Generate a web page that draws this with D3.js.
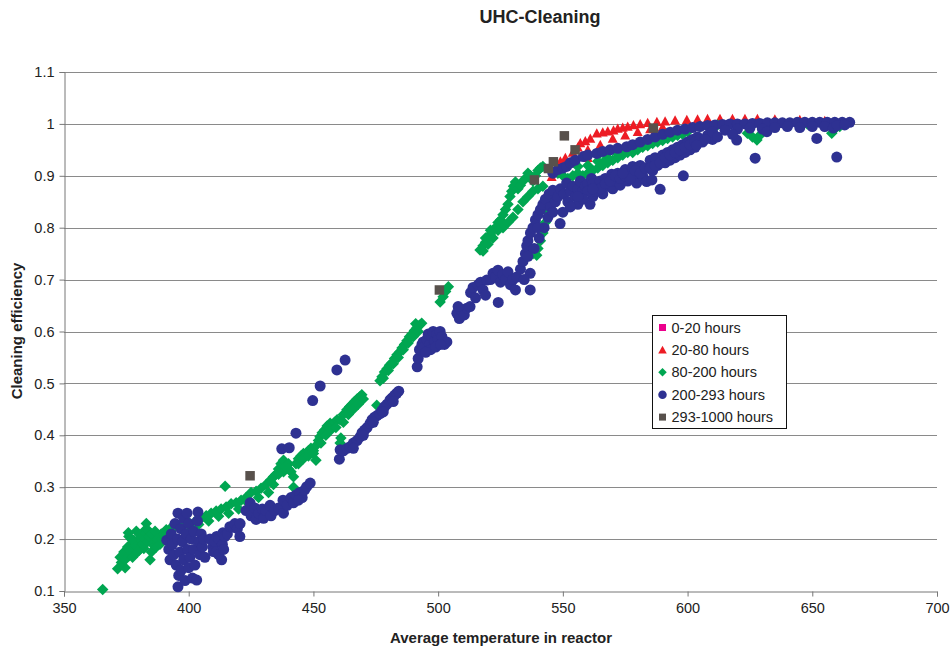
<!DOCTYPE html>
<html><head><meta charset="utf-8">
<script src="https://cdn.jsdelivr.net/npm/d3@7"></script>
<style>body{margin:0;background:#fff;} svg{display:block;font-family:"Liberation Sans",Arial,sans-serif;}</style>
</head><body>
<svg id="chart" width="952" height="648"></svg>
<script>
const chartTitle = "UHC-Cleaning";
const xTitle = "Average temperature in reactor";
const yTitle = "Cleaning efficiency";
const seriesNames = ["0-20 hours", "20-80 hours", "80-200 hours", "200-293 hours", "293-1000 hours"];
const xTicks = [350, 400, 450, 500, 550, 600, 650, 700];
const yTicks = [0.1, 0.2, 0.3, 0.4, 0.5, 0.6, 0.7, 0.8, 0.9, 1.0, 1.1];
const yTickLabels = ["0.1", "0.2", "0.3", "0.4", "0.5", "0.6", "0.7", "0.8", "0.9", "1", "1.1"];

const hours0to20 = [];

const hours20to80 = [
[542.9,0.86],[545.5,0.898],[547,0.91],[549,0.928],[551,0.935],[552.2,0.886],[552.9,0.924],[554,0.945],[556,0.955],[557,0.963],
[559,0.967],[561,0.972],[563.6,0.982],[566,0.984],[568,0.986],[570.3,0.988],[572,0.991],[574,0.993],[576,0.995],[578.3,0.998],
[581,1.0],[584,1.002],[587.7,1.004],[591,1.005],[595,1.007],[599.7,1.008],[604,1.009],[608,1.01],[613,1.01],[618,1.01],
[623,1.01],[628,1.01],[635,1.009],[645,1.008],[655,1.006],[573,0.95],[601,0.966],[560,0.95],[565,0.96],[570,0.972],
[575,0.978],[580,0.985],[585,0.99],[590,0.994],[560,0.935]
];

const hours80to200 = [
[365.5,0.103],[371.5,0.143],[374.5,0.145],
[372.5,0.165],[374,0.175],[376,0.168],[375.5,0.185],[377,0.19],[376,0.205],[375.8,0.212],[378,0.198],[379,0.183],[380,0.192],
[381,0.205],[382,0.215],[383,0.23],[383.5,0.218],[384.5,0.16],[385,0.175],[385.5,0.19],[386,0.2],[387,0.185],[388,0.205],
[389,0.21],[390,0.212],[391,0.218],[392.5,0.22],[378,0.172],[380,0.178],[382,0.182],
[373,0.155],[374.5,0.16],[376.5,0.178],[377.5,0.165],[378.5,0.188],[379.5,0.175],[380.5,0.2],[381.5,0.19],[382.5,0.2],
[383.5,0.195],[384,0.205],[385,0.21],[386.5,0.215],[387.5,0.2],[388.5,0.19],[389.5,0.2],[390.5,0.205],[391.5,0.21],[379,0.215],[377,0.2],
[394,0.222],[396,0.225],[398,0.228],[400,0.232],[401,0.222],[403,0.236],[404,0.228],[405,0.24],[407,0.245],[408,0.235],
[409,0.25],[411,0.254],[412,0.244],[413,0.258],[415,0.262],[416,0.25],[417,0.268],[419,0.27],[420,0.258],[421,0.275],
[423,0.28],[424,0.268],[425,0.29],[427,0.292],[428,0.28],[429,0.298],[431,0.305],[432,0.29],[414.6,0.302],
[433,0.315],[434,0.305],[435,0.325],[436,0.335],[437,0.345],[438,0.352],[438,0.33],[439,0.34],[440,0.345],[441,0.33],
[442,0.32],[442,0.30],[443,0.345],[444,0.355],[445,0.36],[446,0.365],[447,0.365],[448,0.37],[449,0.375],[450,0.37],
[451,0.352],[451,0.38],[452,0.39],[452.6,0.397],[453.5,0.405],[454.5,0.41],[455.5,0.418],[456.7,0.423],[457.5,0.42],
[458.5,0.425],[459.5,0.43],[460.7,0.43],[460.7,0.385],[461,0.395],[462,0.44],[463.4,0.449],[464.5,0.455],[465.5,0.46],
[466.5,0.465],[467.5,0.47],[468.5,0.474],[469.4,0.478],
[434,0.32],[436,0.325],[440,0.335],[444,0.345],[446,0.355],[448,0.36],[450,0.365],[453,0.385],[455,0.4],[457,0.41],
[459,0.415],[462,0.425],[464,0.44],[466,0.45],[468,0.46],[470,0.47],
[475.4,0.458],[476.7,0.505],[477.5,0.513],[478.5,0.522],[479.5,0.528],[480.5,0.535],[481.5,0.54],[482.5,0.548],[483.5,0.555],
[484.5,0.56],[485.5,0.568],[486.5,0.575],[487.5,0.582],[488.5,0.59],[489.5,0.595],[490.5,0.602],[491.5,0.607],[492.5,0.612],[493.4,0.616],
[478,0.51],[480,0.525],[482,0.538],[484,0.55],[486,0.565],[488,0.578],[490,0.59],[492,0.6],[491,0.615],
[500.8,0.657],[502,0.667],[503,0.677],[504.1,0.686],
[516.8,0.757],[518,0.765],[519,0.772],[520,0.78],[521,0.788],[522,0.795],[523,0.8],[524,0.81],[525,0.815],[526,0.825],
[527,0.835],[528,0.845],[528.8,0.86],[529.5,0.87],[530.2,0.88],[531,0.888],[532,0.875],[533,0.882],[534,0.89],[535,0.895],
[536,0.905],[537,0.9],[538,0.89],[539,0.9],[540,0.91],[541,0.915],[542,0.918],[526,0.8],[528,0.81],[530,0.82],
[532,0.835],[534,0.85],[536,0.86],[538,0.87],[540,0.875],[542,0.88],
[518,0.755],[520,0.768],[522,0.78],[524,0.795],[519,0.78],[521,0.795],
[538,0.75],[539.5,0.747],[540,0.76],[541,0.775],[542,0.79],[543,0.81],[544,0.83],[545,0.845],[546,0.855],[547,0.86],
[548,0.905],[550,0.9],[552,0.895],[554,0.9],[556,0.905],[558,0.9],[560,0.905],[562,0.91],[564,0.915],[566,0.92],
[568,0.925],[570,0.93],[572,0.935],[574,0.94],[576,0.945],[578,0.945],[580,0.95],[582,0.955],[584,0.958],[586,0.962],
[588,0.965],[590,0.968],[592,0.972],[594,0.975],[596,0.978],[598,0.98],[600,0.985],[556,0.918],[560,0.92],[564,0.928],
[568,0.935],[572,0.942],[576,0.95],[580,0.958],[584,0.965],[588,0.972],[592,0.978],[565,0.944],[567,0.93],
[605,0.995],[612,0.998],[620,0.998],[624,0.982],[626,0.975],[627.8,0.969],[629,0.978],[630,0.99],[640,1.0],[648,1.0],
[655,0.995],[657.8,0.982],[659,0.99],[661,0.995],[663,1.0]
];

const hours200to293 = [
[391.2,0.198],[392.5,0.16],[392,0.18],[393,0.21],[393.5,0.19],[394,0.17],[394.5,0.23],[395,0.15],[395.5,0.2],[395.7,0.25],
[395.7,0.108],[396,0.13],[396.5,0.175],[396.8,0.22],[397,0.14],[397.5,0.195],[398,0.16],[398,0.24],[398.5,0.12],[399,0.21],
[399.3,0.25],[399.5,0.18],[400,0.145],[400,0.23],[400.5,0.165],[401,0.2],[401.5,0.125],[402,0.215],[402,0.18],[402.5,0.15],
[403.2,0.121],[403.7,0.252],[403.5,0.235],[404,0.195],[404.5,0.17],[405,0.21],[405.5,0.185],[406,0.2],[406.5,0.165],
[408.5,0.2],[409.7,0.185],[409.9,0.176],[410.5,0.195],[411,0.175],[411.2,0.205],[412,0.2],[413.2,0.16],[413.5,0.19],[413.7,0.212],
[414.5,0.205],[415.5,0.21],[416.5,0.224],[417.7,0.223],[418.5,0.23],[419.5,0.22],[420.5,0.205],[420.6,0.23],[412,0.17],[414,0.18],
[423,0.255],[424.6,0.27],[425,0.245],[426.5,0.26],[427,0.238],[428,0.25],[429.5,0.258],[430,0.24],[431,0.255],[432.6,0.265],
[433,0.245],[434.5,0.255],[436,0.26],[437.8,0.275],[438,0.25],[439.5,0.265],[441,0.28],[442,0.27],[443,0.285],[444.5,0.29],
[445.5,0.28],[446.5,0.295],[447.3,0.301],[448.7,0.308],[444,0.275],
[437.3,0.374],[440.3,0.376],[443,0.404],[449.7,0.467],[452.7,0.495],[459.4,0.526],[462.7,0.545],
[460.4,0.354],[460.7,0.372],[462,0.37],[463.5,0.375],[464.7,0.378],[466,0.385],[467.5,0.39],[468.7,0.397],[469.5,0.405],
[470.5,0.41],[471.5,0.415],[472.7,0.423],[473.5,0.43],[474.5,0.435],[475.5,0.438],[476.7,0.442],[477.5,0.448],[478.5,0.455],
[479.5,0.46],[480.7,0.468],[481.5,0.472],[482.5,0.477],[483.4,0.481],[484.2,0.485],[470,0.4],[474,0.425],[478,0.445],
[482,0.465],[466,0.375],
[491.6,0.532],[492,0.548],[492.5,0.565],[493.5,0.575],[494,0.58],[494.5,0.57],[495.5,0.585],[496,0.595],[496.5,0.575],
[497.5,0.59],[498,0.6],[498.5,0.58],[499.5,0.595],[500,0.585],[500.8,0.6],[501.5,0.59],[502.5,0.575],[503.5,0.58],
[497,0.565],[499,0.57],[501,0.575],[495,0.56],
[507.5,0.635],[508.5,0.625],[509.5,0.64],[510.5,0.632],[511.5,0.645],[512.8,0.648],[508,0.648],
[513,0.675],[514,0.685],[515,0.665],[516,0.69],[517,0.695],[518,0.68],[519.5,0.699],[519,0.67],
[521,0.7],[522,0.712],[523,0.705],[524,0.718],[524.1,0.656],[525,0.695],[526,0.71],[527,0.7],[528,0.715],[529,0.69],
[530,0.7],[531,0.68],[531.5,0.705],
[533,0.72],[534,0.735],[535,0.75],[535.5,0.765],[536,0.775],[536.9,0.712],[536.9,0.68],[537,0.79],[538,0.8],[538.5,0.76],
[539,0.815],[540,0.825],[540.5,0.78],[541,0.835],[542,0.845],[542.5,0.8],[543,0.855],[544,0.82],[544.5,0.865],[545,0.84],
[546,0.872],[534.5,0.7],[536,0.745],[540,0.8],
[546,0.83],[547,0.85],[548,0.86],[548.9,0.808],[549,0.875],[550,0.83],[550.5,0.865],[551.5,0.886],[552,0.85],[553,0.87],
[554,0.88],[555,0.86],[556,0.875],[557,0.89],[558,0.87],[559,0.88],[560,0.885],[560.9,0.845],[561.5,0.895],[556,0.845],[553,0.84],
[562,0.885],[562,0.86],[564,0.875],[565,0.89],[566,0.865],[567,0.895],[568,0.88],[569.6,0.903],[570,0.875],[571,0.89],
[572,0.905],[573,0.882],[574,0.9],[575,0.912],[576,0.89],[577,0.905],[578,0.918],[579.6,0.886],[580,0.905],[581,0.92],
[582,0.9],[583.6,0.889],[584,0.915],[585,0.93],[585.7,0.892],[586,0.91],[587,0.935],[588,0.92],[589,0.874],[590,0.94],
[591,0.925],[592,0.945],[593,0.93],[594,0.95],[595,0.935],[596,0.955],[597,0.94],[598,0.96],[598.3,0.9],[599,0.945],
[600,0.965],[601,0.95],[602,0.97],[603,0.955],[604,0.975],[606,0.965],[608,0.978],[610,0.97],
[563,0.87],[565,0.875],[567,0.885],[569,0.89],[571,0.9],[573,0.895],[575,0.9],[577,0.895],[579,0.91],[581,0.905],
[583,0.915],[585,0.915],[587,0.92],[589,0.925],[591,0.935],[593,0.94],[595,0.945],[597,0.95],[599,0.955],[601,0.96],
[603,0.965],[605,0.97],[607,0.97],[560,0.87],[558,0.855],[556,0.86],[562,0.875],
[546,0.905],[548,0.912],[550,0.915],[551.5,0.918],[553,0.925],[555,0.93],[558.2,0.937],[560,0.94],[563.6,0.943],[566,0.947],
[568.9,0.95],[572,0.953],[575.6,0.956],[578,0.96],[581,0.965],[584,0.97],[587,0.975],[590,0.98],[593,0.984],[596,0.988],
[599,0.99],[602,0.993],[605,0.995],[608,0.997],[611,0.998],[614,0.999],[617,1.0],[620,1.0],[623,1.0],[626,1.001],
[629,1.001],[632,1.002],[635,1.002],[638,1.002],[641,1.002],[644,1.003],[647,1.003],[650,1.003],[653,1.003],[656,1.003],
[659,1.003],[662,1.003],[665,1.003],
[603.6,0.959],[610,0.985],[615,0.988],[619.7,0.969],[620,0.99],[625,0.992],[630,0.99],[631.8,0.985],[635,0.993],[640,0.995],
[645,0.993],[650,0.995],[651.8,0.972],[655,0.995],[658.4,0.992],[660,0.997],[663,0.998],[612,0.975],[618,0.98],
[627.1,0.934],[659.8,0.936],[574,0.905]
];

const hours293to1000 = [
[424.6,0.322],[500.5,0.68],[538.6,0.892],[544.2,0.914],[546.2,0.927],[550.6,0.977],[554.9,0.95],[586.3,0.992]
];

const seriesColors = ["#EC008C", "#ED1C24", "#00A651", "#2E3192", "#58514C"];

const svg = d3.select("#chart");
const x = d3.scaleLinear().domain([350, 700]).range([64, 937]);
const y = d3.scaleLinear().domain([0.1, 1.1]).range([591, 72]);

// custom Excel-like marker shapes
const diamondSym = {draw(ctx, size){ const r = Math.sqrt(size)/2; ctx.moveTo(0,-r); ctx.lineTo(r,0); ctx.lineTo(0,r); ctx.lineTo(-r,0); ctx.closePath(); }};
const squareSym = {draw(ctx, size){ const r = Math.sqrt(size)/2; ctx.rect(-r,-r,2*r,2*r); }};
const triSym = {draw(ctx, size){ const r = Math.sqrt(size)/2; ctx.moveTo(0,-r); ctx.lineTo(r,r*0.85); ctx.lineTo(-r,r*0.85); ctx.closePath(); }};
const circSym = {draw(ctx, size){ const r = Math.sqrt(size)/2; ctx.moveTo(r,0); ctx.arc(0,0,r,0,2*Math.PI); }};
const shapes = [squareSym, triSym, diamondSym, circSym, squareSym];
const plotSizes = [8.5, 10, 11.5, 11, 9.5];
const legendSizes = [7, 8.5, 8.5, 8.5, 7];

// gridlines
svg.append("g").selectAll("line").data(yTicks.slice(1)).join("line")
  .attr("x1", 64).attr("x2", 937)
  .attr("y1", d => Math.round(y(d)) + 0.5).attr("y2", d => Math.round(y(d)) + 0.5)
  .attr("stroke", "#8a8a8a").attr("stroke-width", 1);

// axes
const yAxis = d3.axisLeft(y).tickValues(yTicks).tickSize(5).tickPadding(5)
  .tickFormat((d, i) => yTickLabels[i]);
const xAxis = d3.axisBottom(x).tickValues(xTicks).tickSize(5).tickPadding(6)
  .tickFormat(d => String(d));
const gy = svg.append("g").attr("transform", "translate(64.5,0)").call(yAxis);
const gx = svg.append("g").attr("transform", "translate(0,591.5)").call(xAxis);
[gx, gy].forEach(g => {
  g.select(".domain").attr("stroke", "#777");
  g.selectAll(".tick line").attr("stroke", "#777");
  g.selectAll(".tick text").attr("fill", "#222").style("font-size", "14.5px").style("font-family", '"Liberation Sans", Arial, sans-serif');
});

// data series
const allSeries = [hours0to20, hours20to80, hours80to200, hours200to293, hours293to1000];
const plot = svg.append("g");
allSeries.forEach((data, i) => {
  const sym = d3.symbol().type(shapes[i]).size(plotSizes[i] * plotSizes[i]);
  plot.append("g").selectAll("path").data(data).join("path")
    .attr("transform", d => `translate(${x(d[0])},${y(d[1])})`)
    .attr("d", sym)
    .attr("fill", seriesColors[i]);
});

// titles
svg.append("text").attr("x", 540).attr("y", 23).attr("text-anchor", "middle")
  .style("font-weight", "bold").style("font-size", "18px").attr("fill", "#222").text(chartTitle);
svg.append("text").attr("x", 501).attr("y", 643).attr("text-anchor", "middle")
  .style("font-weight", "bold").style("font-size", "15px").attr("fill", "#222").text(xTitle);
svg.append("text").attr("transform", "translate(22,331) rotate(-90)").attr("text-anchor", "middle")
  .style("font-weight", "bold").style("font-size", "15px").attr("fill", "#222").text(yTitle);

// legend
const lg = svg.append("g").attr("transform", "translate(652.5,315.5)");
lg.append("rect").attr("width", 134).attr("height", 113).attr("fill", "#fff").attr("stroke", "#111").attr("stroke-width", 1);
seriesNames.forEach((name, i) => {
  const cy = 12 + i * 22.4;
  const sym = d3.symbol().type(shapes[i]).size(legendSizes[i] * legendSizes[i]);
  lg.append("path").attr("transform", `translate(10,${cy})`).attr("d", sym).attr("fill", seriesColors[i]);
  lg.append("text").attr("x", 19).attr("y", cy + 5).style("font-size", "14.5px").attr("fill", "#222").text(name);
});
</script>
</body></html>
